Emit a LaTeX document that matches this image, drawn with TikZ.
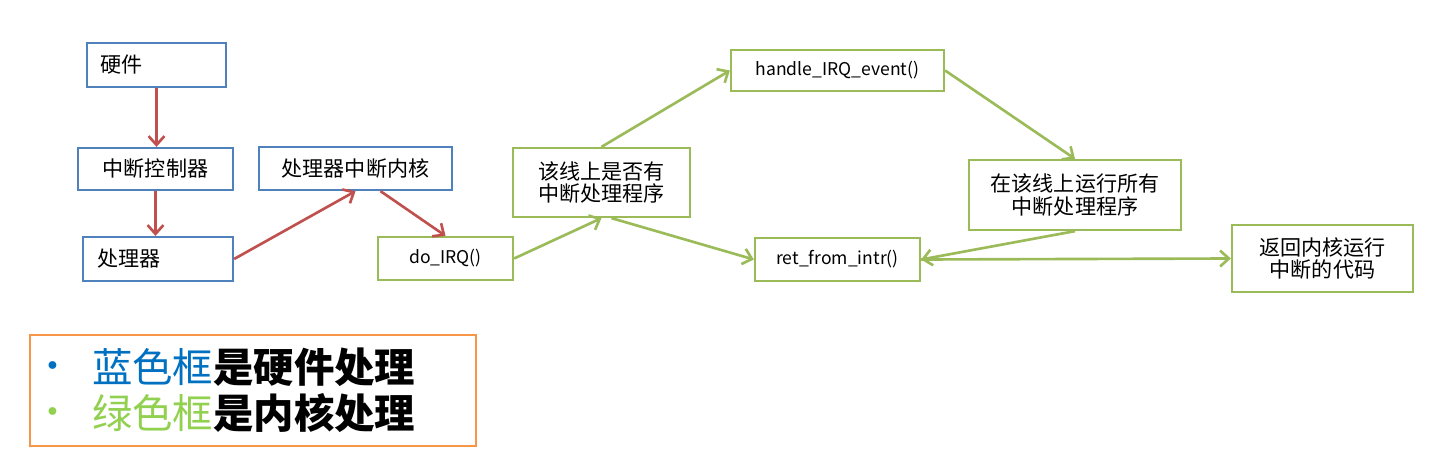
\documentclass[tikz,border=0pt]{standalone}
\usepackage{fontspec}
\setmainfont{Noto Sans CJK SC}
\usetikzlibrary{arrows.meta}
\definecolor{hwblue}{HTML}{4F81BD}
\definecolor{kgreen}{HTML}{9BBB59}
\definecolor{arrred}{HTML}{C0504D}
\definecolor{legorange}{HTML}{F79646}
\definecolor{legblue}{HTML}{0070C0}
\definecolor{leggreen}{HTML}{92D050}
\newcommand{\legdot}[1]{\makebox[0.86cm][l]{\hspace*{-0.3cm}\raisebox{0.08em}{\fontsize{21}{21}\selectfont\color{#1}•}}}
\begin{document}
\begin{tikzpicture}[x=0.02cm, y=-0.02cm, >={Straight Barb[length=5pt, width=9pt]},
    hwbox/.style={draw=hwblue, line width=1.3pt, inner sep=0pt, align=center, font=\fontsize{12}{13}\selectfont},
    kbox/.style={draw=kgreen, line width=1.3pt, inner sep=0pt, align=center, font=\fontsize{12}{13}\selectfont},
    codebox/.style={kbox, font=\fontsize{10}{12}\selectfont},
    redline/.style={->, draw=arrred, line width=1.5pt},
    greenline/.style={->, draw=kgreen, line width=1.5pt}]
        \useasboundingbox (0,0) rectangle (1430,456);
        % Hardware nodes
        \node[hwbox, minimum height=0.88cm, text width=2.26cm, inner xsep=0.26cm, align=left] (hw) at (156.5,65) {硬件};
        \node[hwbox, minimum width=3.1cm, minimum height=0.84cm] (ctrl) at (155.5,169) {中断控制器};
        \node[hwbox, minimum height=0.88cm, text width=2.44cm, inner xsep=0.28cm, align=left] (cpu) at (158,259) {处理器};
        \node[hwbox, minimum width=3.86cm, minimum height=0.86cm] (core) at (355.5,168.5) {处理器中断内核};

        % Kernel nodes
        \node[codebox, minimum width=2.7cm, minimum height=0.86cm] (doirq) at (445.5,258.5) {do\_IRQ()};
        \node[kbox, minimum width=3.54cm, minimum height=1.38cm] (check) at (601.5,182.5) {该线上是否有\\中断处理程序};
        \node[codebox, minimum width=4.26cm, minimum height=0.82cm] (handle) at (837.5,70.5) {handle\_IRQ\_event()};
        \node[kbox, minimum width=4.24cm, minimum height=1.4cm] (runall) at (1075,195) {在该线上运行所有\\中断处理程序};
        \node[codebox, minimum width=3.3cm, minimum height=0.86cm] (ret) at (837.5,259.5) {ret\_from\_intr()};
        \node[kbox, minimum width=3.62cm, minimum height=1.34cm] (back) at (1322.5,258.5) {返回内核运行\\中断的代码};

        % Edges
        \draw[redline] (hw.south) -- (hw.south |- ctrl.north);
        \draw[redline] (ctrl.south) -- (ctrl.south |- cpu.north);
        \draw[redline] (cpu.east) -- (core.south);
        \draw[redline] ([xshift=0.5cm]core.south) -- (doirq.north);
        \draw[greenline] (doirq.east) -- (check.south);
        \draw[greenline] (check.north) -- (handle.west);
        \draw[greenline] (handle.east) -- (runall.north);
        \draw[greenline] ([xshift=0.2cm]check.south) -- (ret.west);
        \draw[greenline] (runall.south) -- (ret.east);
        \draw[greenline] (ret.east) -- (back.west);

        % Legend
        \node[draw=legorange, line width=1.2pt, minimum width=8.92cm, minimum height=2.22cm,
              text width=8.16cm, inner xsep=0.38cm, align=left,
              font=\fontsize{23}{26}\selectfont] (legend) at (253,390.5)
            {\legdot{legblue}\textcolor{legblue}{蓝色框}\textbf{是硬件处理}\\
             \legdot{leggreen}\textcolor{leggreen}{绿色框}\textbf{是内核处理}};
\end{tikzpicture}
\end{document}
